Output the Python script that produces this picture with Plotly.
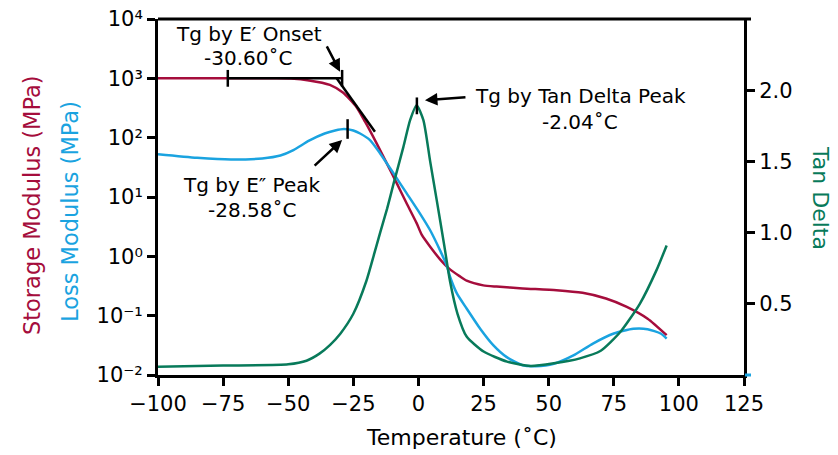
import numpy as np
import plotly.graph_objects as go

# ---------------- data ----------------
storage_T = [-100, -75, -55, -49, -42, -34, -29, -24, -20.5, -16, -12.2, -8.3, -4.5, -0.65, 1.3, 4.5,
             8.3, 12.1, 16, 18.5, 24.9, 30, 40, 53, 63, 72, 80, 88, 95.3]
storage_mod = [1000, 1000, 1000, 989, 923, 776, 575, 339, 186, 79.4, 37.2, 17.0, 7.76, 3.59, 2.29, 1.45,
               0.891, 0.603, 0.457, 0.389, 0.324, 0.309, 0.288, 0.269, 0.243, 0.195, 0.141, 0.089, 0.047]

loss_T = [-100, -85, -72, -60, -53, -48, -42, -36, -32, -28.6, -25, -22.4, -18.6, -14.7, -9.6, -4.5, 0.6,
          4.5, 8.3, 10.9, 12.1, 14.7, 18.5, 23.7, 28.8, 33.9, 40, 45, 52, 59.5, 67, 75, 82.5, 88, 93, 95.3]
loss_mod = [52.5, 45.7, 42.7, 44.7, 50.1, 61.7, 89.1, 117.5, 131.8, 139.6, 131.8, 117.5, 91.2, 54.3, 25.1,
            11.5, 5.25, 2.75, 1.26, 0.692, 0.457, 0.240, 0.132, 0.0603, 0.0316, 0.020, 0.0146, 0.0141,
            0.0155, 0.0214, 0.0339, 0.050, 0.060, 0.059, 0.050, 0.041]

tan_T = [-100, -75, -50, -43, -38, -34, -30, -25, -20, -17, -14.7, -12, -9.6, -5.8, -3.2, -0.7, 1.9, 4.5,
         7.0, 10, 12.1, 15, 18.5, 25, 34, 43, 52, 62, 70, 77.4, 85, 91.5, 95.3]
tan_delta = [0.058, 0.066, 0.075, 0.10, 0.15, 0.21, 0.29, 0.43, 0.66, 0.85, 1.00, 1.17, 1.34, 1.60, 1.79,
             1.895, 1.79, 1.50, 1.23, 0.90, 0.66, 0.43, 0.27, 0.165, 0.094, 0.063, 0.082, 0.117, 0.17,
             0.30, 0.50, 0.74, 0.91]

x_ticks = [-100, -75, -50, -25, 0, 25, 50, 75, 100, 125]
mod_ticks = [1e-2, 1e-1, 1e0, 1e1, 1e2, 1e3, 1e4]
mod_ticktext = ["10\u207b\u00b2", "10\u207b\u00b9", "10\u2070", "10\u00b9", "10\u00b2", "10\u00b3", "10\u2074"]
tan_ticks = [0.5, 1.0, 1.5, 2.0]
tan_ticktext = ["0.5", "1.0", "1.5", "2.0"]

# Tg annotation geometry (temperature, value)
onset_line_T = [-73.2, -29.3]
onset_line_E = [1000, 1000]
tangent_T = [-31.4, -16.7]
tangent_E = [1000, 126]
epp_peak_T = [-27.2]
epp_peak_E = [140]
tan_peak_T = [-0.6]
tan_peak_v = [1.89]

RED = "#A50D3C"
BLUE = "#1AA3E0"
GREEN = "#087A5A"
FONT = "DejaVu Sans"

fig = go.Figure()

spl = dict(width=2.5, shape="spline", smoothing=0.6)
fig.add_trace(go.Scatter(x=storage_T, y=storage_mod, mode="lines", line=dict(color=RED, **spl), showlegend=False))
fig.add_trace(go.Scatter(x=loss_T, y=loss_mod, mode="lines", line=dict(color=BLUE, **spl), showlegend=False))
fig.add_trace(go.Scatter(x=tan_T, y=tan_delta, mode="lines", yaxis="y2", line=dict(color=GREEN, **spl), showlegend=False))

tick_marker = dict(symbol="line-ns-open", size=12, color="black", line=dict(color="black", width=2.5))
fig.add_trace(go.Scatter(x=onset_line_T, y=onset_line_E, mode="lines+markers", line=dict(color="black", width=2.5),
                         marker=tick_marker, showlegend=False))
fig.add_trace(go.Scatter(x=tangent_T, y=tangent_E, mode="lines", line=dict(color="black", width=2.5), showlegend=False))
fig.add_trace(go.Scatter(x=epp_peak_T, y=epp_peak_E, mode="markers", marker=dict(tick_marker, size=14), showlegend=False))
fig.add_trace(go.Scatter(x=tan_peak_T, y=tan_peak_v, mode="markers", yaxis="y2", marker=tick_marker, showlegend=False))

# page body has an 8px margin, so the figure is drawn 8px smaller and offset
OFF = 8
W, H = 838 - OFF, 455 - OFF
L, R, T, B = 158 - OFF, 94, 19 - OFF, 80
pw, ph = W - L - R, H - T - B


def px(xp):
    return (xp - OFF - L) / pw


def py(yp):
    return (H - B - (yp - OFF)) / ph


annotations = []


def txt(text, x, y, color="black", size=20, angle=0):
    annotations.append(dict(text=text, x=px(x), y=py(y), xref="paper", yref="paper", showarrow=False,
                            xanchor="center", yanchor="middle", textangle=angle,
                            font=dict(family=FONT, size=size, color=color)))


txt("Tg by E\u2032 Onset", 249, 34)
txt("-30.60\u02daC", 248, 58)
txt("Tg by E\u2033 Peak", 252, 185)
txt("-28.58\u02daC", 252, 210)
txt("Tg by Tan Delta Peak", 580, 96)
txt("-2.04\u02daC", 580, 122)
txt("Temperature (\u02daC)", 462, 437, size=22)
txt("Storage Modulus (MPa)", 32, 205, color=RED, size=22.5, angle=-90)
txt("Loss Modulus (MPa)", 70, 211, color=BLUE, size=22.5, angle=-90)
txt("Tan Delta", 821, 198, color=GREEN, size=22, angle=90)

# arrows
annotations.append(dict(x=-30.1, y=3.11, xref="x", yref="y", text="", showarrow=True, arrowhead=2, arrowsize=1,
                        arrowwidth=2.5, arrowcolor="black", ax=-14, ay=-27))
annotations.append(dict(x=-29.3, y=1.96, xref="x", yref="y", text="", showarrow=True, arrowhead=2, arrowsize=1,
                        arrowwidth=2.5, arrowcolor="black", ax=-29, ay=27))
annotations.append(dict(x=2.5, y=1.93, xref="x", yref="y2", text="", showarrow=True, arrowhead=2, arrowsize=1,
                        arrowwidth=2.5, arrowcolor="black", ax=42, ay=-3))

shapes = [
    dict(type="line", xref="paper", yref="paper", x0=0, x1=px(751), y0=1, y1=1, line=dict(color="black", width=3)),
    dict(type="line", xref="paper", yref="paper", x0=px(745), x1=px(751), y0=0, y1=0, line=dict(color=BLUE, width=3)),
]

axis_font = dict(family=FONT, size=21, color="black")
common = dict(ticks="outside", ticklen=8, tickwidth=2.5, tickcolor="black", showline=True, linewidth=3,
              linecolor="black", showgrid=False, zeroline=False, tickfont=axis_font, automargin=False,
              ticklabeloverflow="allow")

fig.update_layout(
    width=W, height=H,
    margin=dict(l=L, r=R, t=T, b=B, autoexpand=False),
    paper_bgcolor="white", plot_bgcolor="white",
    showlegend=False,
    xaxis=dict(range=[-100, 125], tickvals=x_ticks, **common),
    yaxis=dict(type="log", range=[-2, 4], tickvals=mod_ticks, ticktext=mod_ticktext, **common),
    yaxis2=dict(overlaying="y", side="right", range=[0, 2.5], tickvals=tan_ticks, ticktext=tan_ticktext, **common),
    annotations=annotations,
    shapes=shapes,
)

fig.write_html("out.html")
